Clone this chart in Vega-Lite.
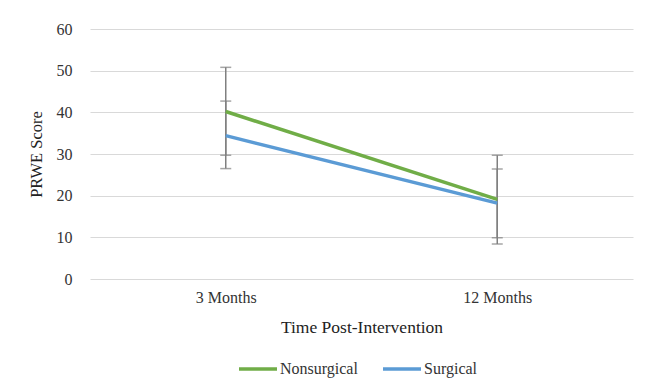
{
  "$schema": "https://vega.github.io/schema/vega-lite/v6.json",
  "width": 543,
  "height": 250,
  "autosize": {"type": "none"},
  "padding": {"left": 90, "top": 29, "right": 27, "bottom": 110},
  "background": "white",
  "config": {
    "view": {"stroke": null},
    "font": "Times New Roman",
    "axis": {"labelFont": "Times New Roman", "titleFont": "Times New Roman", "labelColor": "#333333", "titleColor": "#222222", "titleFontWeight": "normal"},
    "legend": {"labelFont": "Times New Roman"}
  },
  "data": {
    "values": [
      {"group": "Nonsurgical", "time": "3 Months", "mean": 40.2, "lo": 29.7, "hi": 50.8},
      {"group": "Surgical", "time": "3 Months", "mean": 34.4, "lo": 26.5, "hi": 42.7},
      {"group": "Nonsurgical", "time": "12 Months", "mean": 19.1, "lo": 8.4, "hi": 29.7},
      {"group": "Surgical", "time": "12 Months", "mean": 18.2, "lo": 9.9, "hi": 26.4}
    ]
  },
  "encoding": {
    "x": {
      "field": "time", "type": "ordinal", "sort": ["3 Months", "12 Months"],
      "scale": {"type": "point", "padding": 0.5},
      "axis": {"title": "Time Post-Intervention", "labelAngle": 0, "ticks": false, "domain": false, "labelFontSize": 16, "labelPadding": 10, "titleFontSize": 17.5, "titlePadding": 13}
    }
  },
  "layer": [
    {
      "mark": {"type": "rule", "color": "#808080", "strokeWidth": 1.5},
      "encoding": {
        "y": {"field": "lo", "type": "quantitative"},
        "y2": {"field": "hi"}
      }
    },
    {
      "mark": {"type": "tick", "color": "#808080", "orient": "horizontal", "size": 11, "thickness": 1.5},
      "encoding": {"y": {"field": "lo", "type": "quantitative"}}
    },
    {
      "mark": {"type": "tick", "color": "#808080", "orient": "horizontal", "size": 11, "thickness": 1.5},
      "encoding": {"y": {"field": "hi", "type": "quantitative"}}
    },
    {
      "mark": {"type": "line", "strokeWidth": 3.5},
      "encoding": {
        "y": {
          "field": "mean", "type": "quantitative",
          "scale": {"domain": [0, 60]},
          "axis": {"title": "PRWE Score", "values": [0, 10, 20, 30, 40, 50, 60], "ticks": false, "domain": false, "gridColor": "#d9d9d9", "gridWidth": 1, "labelFontSize": 16, "labelPadding": 18, "titleFontSize": 16.5, "titlePadding": 12}
        },
        "color": {
          "field": "group", "type": "nominal",
          "scale": {"domain": ["Nonsurgical", "Surgical"], "range": ["#70ad47", "#5b9bd5"]},
          "legend": {"title": null, "orient": "none", "legendX": 147, "legendY": 319, "direction": "horizontal", "symbolType": "stroke", "symbolStrokeWidth": 3.5, "symbolSize": 1444, "labelFont": "Times New Roman", "labelFontSize": 16, "labelColor": "#333333", "columnPadding": 18, "labelOffset": 1}
        }
      }
    }
  ]
}
